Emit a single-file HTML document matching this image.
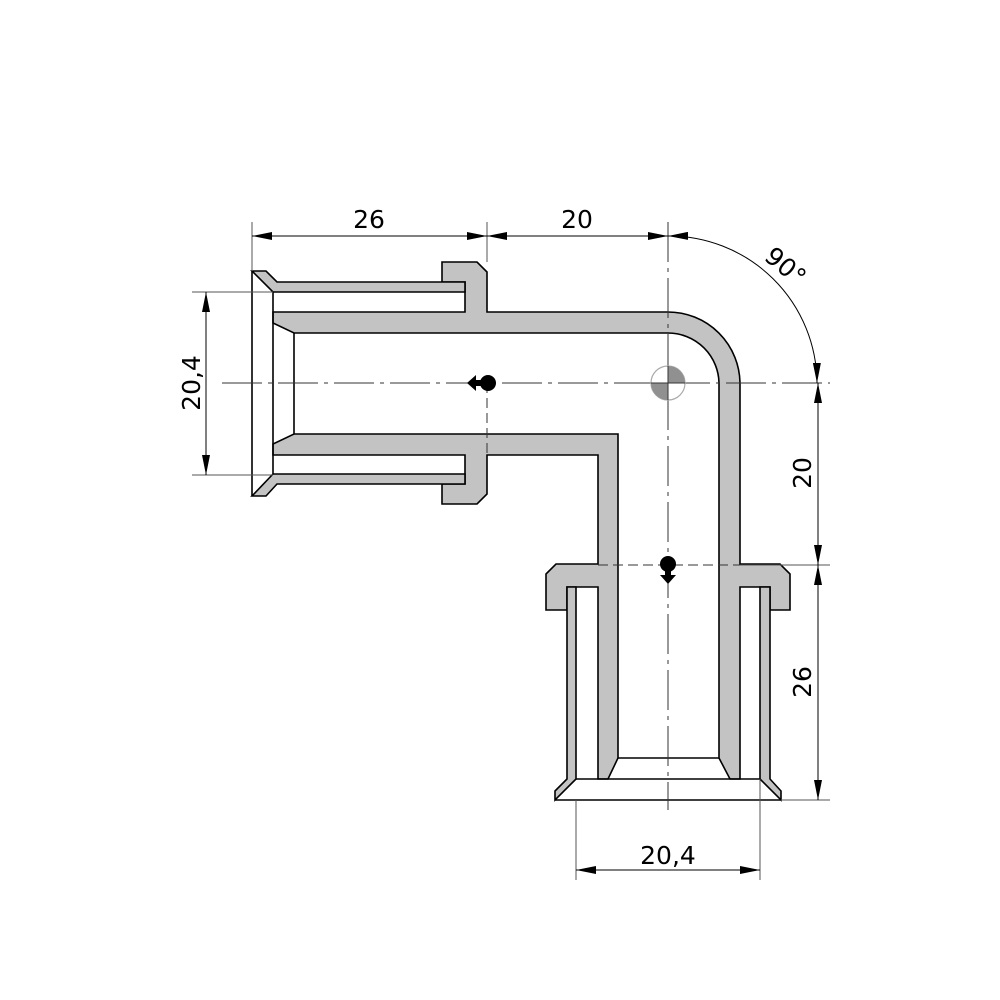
<!DOCTYPE html>
<html><head><meta charset="utf-8"><style>
html,body{margin:0;padding:0;background:#fff;}
svg{display:block;}
text{font-family:"DejaVu Sans","Liberation Sans",sans-serif;font-size:25px;fill:#000;}
</style></head><body>
<svg width="1000" height="1000" viewBox="0 0 1000 1000" xmlns="http://www.w3.org/2000/svg">
<defs>
<marker id="a" viewBox="0 0 20 8" refX="20" refY="4" markerWidth="20" markerHeight="8" markerUnits="userSpaceOnUse" orient="auto-start-reverse">
<path d="M0,0 L20,4 L0,8 Z" fill="#000"/></marker>
</defs>
<g fill="#c3c3c3" stroke="#000" stroke-width="1.6" stroke-linejoin="miter">
<path d="M442,262 L477,262 L487,272 L487,312 L668,312 A72,72 0 0 1 740,384 L740,564 L780,564 L790,574 L790,610 L770,610 L770,587 L740,587 L740,779 L730,779 L719,758 L719,384 A51,51 0 0 0 668,333 L294,333 L273,323 L273,312 L465,312 L465,282 L442,282 Z"/>
<path d="M442,504 L477,504 L487,494 L487,455 L598,455 L598,564 L556,564 L546,574 L546,610 L567,610 L567,587 L598,587 L598,779 L608,779 L618,758 L618,434 L294,434 L273,444 L273,455 L465,455 L465,484 L442,484 Z"/>
<path d="M252,271 L266,271 L277,282 L465,282 L465,292 L273,292 Z"/>
<path d="M252,496 L266,496 L277,484 L465,484 L465,474 L273,474 Z"/>
<path d="M555,800 L555,791 L567,779 L567,587 L576,587 L576,779 Z"/>
<path d="M781,800 L781,791 L770,779 L770,587 L760,587 L760,779 Z"/>
</g>
<g stroke="#000" stroke-width="1.6" fill="none">
<path d="M252,271 L252,496 M273,292 L273,474 M294,333 L294,434 M555,800 L781,800 M576,779 L760,779 M618,758 L719,758"/>
</g>
<!-- center lines -->
<g stroke="#333" stroke-width="1" fill="none">
<path d="M222,383 L830,383" stroke-dasharray="40,6,4,6"/>
<path d="M668,222 L668,810" stroke-dasharray="40,6,4,6"/>
<path d="M487,383 L487,455" stroke-dasharray="10,5"/>
<path d="M598,565 L740,565" stroke-dasharray="10,5"/>
</g>
<!-- extension lines -->
<g stroke="#555" stroke-width="1" fill="none">
<path d="M252,222 L252,271 M487,222 L487,262 M192,292 L273,292 M192,475 L273,475 M740,565 L830,565 M781,800 L830,800 M576,800 L576,880 M760,779 L760,880"/>
</g>
<!-- dimension lines -->
<g stroke="#000" stroke-width="1" fill="none" marker-start="url(#a)" marker-end="url(#a)">
<path d="M252,236 L487,236"/>
<path d="M487,236 L668,236"/>
<path d="M206,292 L206,475"/>
<path d="M818,383 L818,565"/>
<path d="M818,565 L818,800"/>
<path d="M576,870 L760,870"/>
<path d="M668,236 A148,148 0 0 1 817,383"/>
</g>
<!-- symbols -->
<circle cx="668" cy="383" r="17" fill="#fff" stroke="#aaa" stroke-width="1.2"/>
<path d="M668,383 L668,366 A17,17 0 0 1 685,383 Z" fill="#909090"/>
<path d="M668,383 L668,400 A17,17 0 0 1 651,383 Z" fill="#909090"/>
<path d="M651,383 L685,383 M668,366 L668,400" stroke="#333" stroke-width="1"/>
<circle cx="488" cy="383" r="8" fill="#000"/>
<path d="M467,383 L476,375 L476,380 L482,380 L482,386 L476,386 L476,391 Z" fill="#000"/>
<circle cx="668" cy="564" r="8" fill="#000"/>
<path d="M668,584 L660,575 L665,575 L665,568 L671,568 L671,575 L676,575 Z" fill="#000"/>
<!-- labels -->
<text x="369" y="228" text-anchor="middle">26</text>
<text x="577" y="228" text-anchor="middle">20</text>
<text x="668" y="864" text-anchor="middle">20,4</text>
<text transform="translate(200,383) rotate(-90)" text-anchor="middle">20,4</text>
<text transform="translate(811,473) rotate(-90)" text-anchor="middle">20</text>
<text transform="translate(811,682) rotate(-90)" text-anchor="middle">26</text>
<text transform="translate(780,273) rotate(40)" text-anchor="middle">90°</text>
</svg>
</body></html>
